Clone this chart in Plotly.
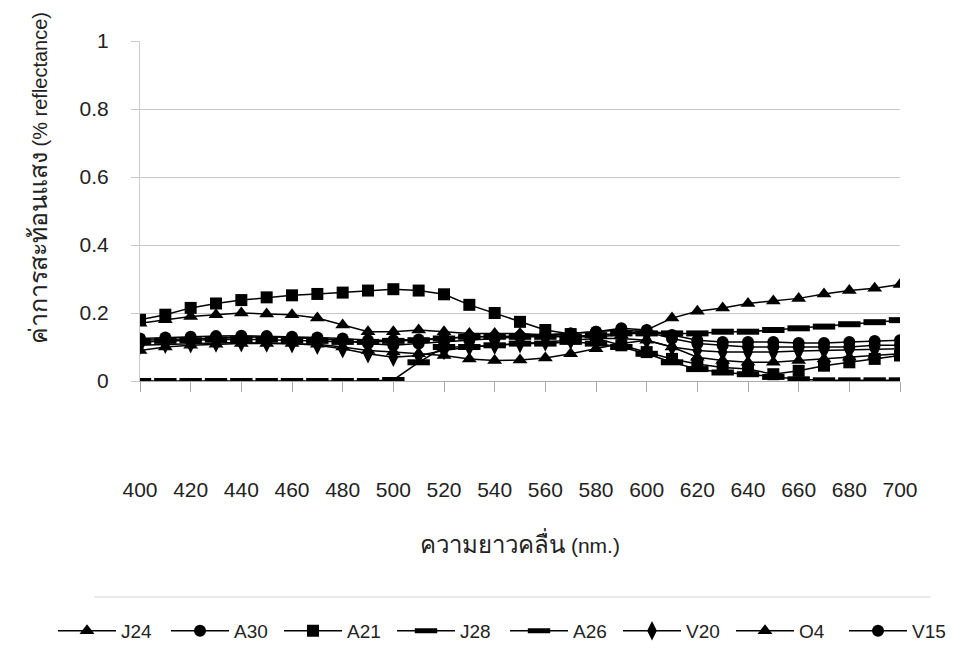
import plotly.graph_objects as go

wavelength = list(range(400, 701, 10))
x_ticks = list(range(400, 701, 20))
y_ticks = [0, 0.2, 0.4, 0.6, 0.8, 1]
y_tick_labels = ["0", "0.2", "0.4", "0.6", "0.8", "1"]

J24 = [0.17, 0.18, 0.19, 0.195, 0.2, 0.197, 0.195, 0.185, 0.165, 0.145, 0.145, 0.15, 0.145, 0.14, 0.14, 0.14,
       0.135, 0.13, 0.13, 0.135, 0.15, 0.185, 0.205, 0.215, 0.228, 0.235, 0.243, 0.256, 0.266, 0.273, 0.284]
A30 = [0.12, 0.122, 0.125, 0.128, 0.13, 0.13, 0.128, 0.125, 0.12, 0.11, 0.105, 0.11, 0.115, 0.12, 0.125, 0.13,
       0.135, 0.14, 0.145, 0.15, 0.145, 0.125, 0.11, 0.105, 0.1, 0.1, 0.1, 0.1, 0.1, 0.105, 0.105]
A21 = [0.18, 0.195, 0.215, 0.228, 0.238, 0.246, 0.252, 0.256, 0.26, 0.266, 0.27, 0.266, 0.255, 0.224, 0.2, 0.174,
       0.15, 0.138, 0.125, 0.105, 0.085, 0.065, 0.05, 0.04, 0.035, 0.02, 0.03, 0.045, 0.055, 0.065, 0.075]
J28 = [0.115, 0.118, 0.12, 0.122, 0.123, 0.122, 0.12, 0.118, 0.115, 0.115, 0.118, 0.12, 0.125, 0.13, 0.13, 0.13,
       0.13, 0.13, 0.135, 0.14, 0.14, 0.14, 0.14, 0.145, 0.145, 0.15, 0.155, 0.16, 0.167, 0.173, 0.179]
A26 = [0.0, 0.0, 0.0, 0.0, 0.0, 0.0, 0.0, 0.0, 0.0, 0.0, 0.003, 0.055, 0.1, 0.1, 0.105, 0.11,
       0.11, 0.115, 0.11, 0.1, 0.08, 0.055, 0.035, 0.025, 0.02, 0.012, 0.005, 0.002, 0.002, 0.002, 0.002]
V20 = [0.105, 0.108, 0.11, 0.112, 0.113, 0.112, 0.11, 0.105, 0.095, 0.08, 0.07, 0.075, 0.09, 0.1, 0.105, 0.11,
       0.115, 0.12, 0.125, 0.125, 0.12, 0.1, 0.09, 0.085, 0.085, 0.085, 0.088, 0.09, 0.09, 0.092, 0.095]
O4 = [0.09, 0.1, 0.105, 0.108, 0.11, 0.11, 0.11, 0.108, 0.1, 0.09, 0.085, 0.08, 0.075, 0.065, 0.06, 0.062,
      0.068, 0.08, 0.095, 0.11, 0.12, 0.1, 0.07, 0.06, 0.055, 0.055, 0.06, 0.065, 0.07, 0.075, 0.08]
V15 = [0.125, 0.128, 0.13, 0.132, 0.133, 0.132, 0.13, 0.128, 0.125, 0.12, 0.12, 0.122, 0.125, 0.13, 0.13, 0.132,
       0.135, 0.14, 0.145, 0.155, 0.15, 0.135, 0.12, 0.115, 0.115, 0.115, 0.112, 0.112, 0.115, 0.118, 0.12]

series = [
    ("J24", J24, dict(symbol="triangle-up", size=13, color="black")),
    ("A30", A30, dict(symbol="circle", size=12, color="black")),
    ("A21", A21, dict(symbol="square", size=12, color="black")),
    ("J28", J28, dict(symbol="line-ew", size=16, color="black", line=dict(width=6, color="black"))),
    ("A26", A26, dict(symbol="line-ew", size=16, color="black", line=dict(width=6, color="black"))),
    ("V20", V20, dict(symbol="diamond-tall", size=14, color="black")),
    ("O4", O4, dict(symbol="triangle-up", size=13, color="black")),
    ("V15", V15, dict(symbol="circle", size=12, color="black")),
]

fig = go.Figure()
for name, vals, mk in series:
    fig.add_trace(go.Scatter(x=wavelength, y=vals, name=name, mode="lines+markers",
                             line=dict(color="black", width=1.5), marker=mk))

font_main = "Liberation Sans, Arial, sans-serif"

y_title = ('<span style="font-size:25px">ค่าการสะท้อนแสง</span> (% reflectance)')
x_title = ('<span style="font-size:24px">ความยาวคลื่น</span> (nm.)')

fig.update_layout(
    width=957, height=667,
    margin=dict(l=140, r=57, t=41, b=286),
    paper_bgcolor="white", plot_bgcolor="white",
    font=dict(family=font_main, size=18, color="#222"),
    showlegend=True,
    legend=dict(orientation="h", x=-0.075, xanchor="left", y=-0.735, yanchor="middle",
                font=dict(size=19, color="#222"), itemwidth=58, entrywidth=40,
                bgcolor="rgba(0,0,0,0)"),
    xaxis=dict(range=[400, 700], tickvals=x_ticks, ticktext=[str(v) for v in x_ticks],
               showgrid=False, zeroline=False, showline=True, linecolor="#aaa", linewidth=1,
               ticks="outside", ticklen=10, tickcolor="#aaa",
               ticklabelstandoff=80, tickfont=dict(size=21, color="#222"),
               title=dict(text=x_title, standoff=38, font=dict(size=21, color="#222"))),
    yaxis=dict(range=[0, 1], tickvals=y_ticks, ticktext=y_tick_labels,
               showgrid=True, gridcolor="#c8c8c8", gridwidth=1, zeroline=False,
               showline=True, linecolor="#ccc", linewidth=1,
               ticks="outside", ticklen=8, tickcolor="#c8c8c8",
               ticklabelstandoff=18, tickfont=dict(size=21, color="#222")),
    annotations=[dict(text=y_title, textangle=-90,
                      xref="paper", yref="paper", x=0, xshift=-102, y=0.597,
                      xanchor="center", yanchor="middle", showarrow=False,
                      font=dict(size=20, color="#222"))],
    shapes=[dict(type="line", xref="paper", yref="paper", x0=-0.06, x1=1.04, y0=-0.635, y1=-0.635,
                 line=dict(color="#e0e0e0", width=1.5))],
)

fig.write_html("out.html")
